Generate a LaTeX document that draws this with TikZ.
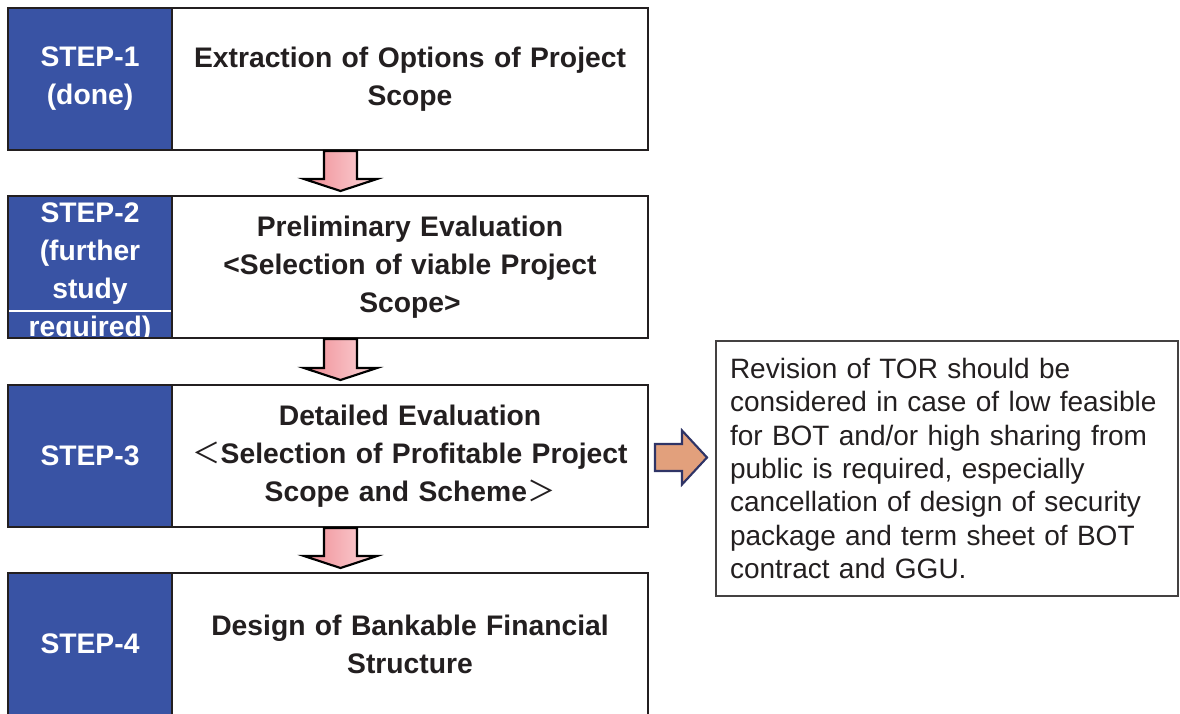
\documentclass[tikz,border=0pt]{standalone}
\usepackage{fontspec}
\setmainfont{Liberation Sans}
\newfontfamily\cjkfont{Noto Sans CJK SC}
\usetikzlibrary{calc, positioning}
\definecolor{cnavy}{HTML}{3953A4}
\definecolor{cink}{HTML}{231F20}
\definecolor{cpink}{HTML}{EF8A93}
\definecolor{cpinklt}{HTML}{FCD8DA}
\definecolor{corange}{HTML}{E2A07C}
\definecolor{cdeep}{HTML}{2F3466}
\tikzset{
  every picture/.style={x=0.75pt, y=0.75pt},
  idcell/.style={draw=cink, fill=cnavy, line width=1.8pt, anchor=north west, inner sep=0pt, outer sep=0pt,
    minimum width=123pt, minimum height=106.5pt, text=white, align=center,
    font=\bfseries\fontsize{21.2}{28.5}\selectfont},
  taskcell/.style={draw=cink, fill=white, line width=1.8pt, anchor=north west, inner sep=0pt, outer sep=0pt,
    minimum width=357pt, minimum height=106.5pt, text=cink, align=center, text width=345pt,
    font=\bfseries\fontsize{21.2}{28.5}\selectfont},
  downarrow/.style={draw=black, line width=1.6pt, left color=cpink, right color=cpinklt},
  sidearrow/.style={draw=cdeep, line width=1.6pt, fill=corange},
  note/.style={draw=cink!85, line width=1pt, anchor=north west, inner xsep=10.5pt, inner ysep=0pt, outer sep=0pt,
    minimum width=346.5pt, minimum height=191.25pt, text width=325.5pt, align=left, text=cink,
    font=\fontsize{21}{25.1}\selectfont},
}
\begin{document}
\begin{tikzpicture}
  \useasboundingbox (0,0) rectangle (1180,-713);
  % step rows
  \foreach \i/\y/\lab/\task in {
    1/8/{STEP-1\\(done)}/{Extraction of Options of Project\\Scope},
    2/196/{}/{Preliminary Evaluation\\<Selection of viable Project\\Scope>},
    3/385/{STEP-3}/{Detailed Evaluation\\{\cjkfont\mdseries ＜}Selection of Profitable Project\\Scope and Scheme{\cjkfont\mdseries ＞}},
    4/573/{STEP-4}/{Design of Bankable Financial\\Structure}} {
    \node[idcell] (id\i) at (8,-\y) {\lab};
    \node[taskcell] (task\i) at (172,-\y) {\task};
  }
  % step 2 label runs over its cell
  \begin{scope}
    \clip (id2.south west) rectangle (id2.north east);
    \node[idcell, draw=none, fill=none, anchor=center] (id2t) at ($(id2.center)+(0,-6)$) {STEP-2\\(further\\study\\required)};
    \draw[white, line width=0.8pt] ($(id2.south west)+(0,27)$) -- ($(id2.south east)+(0,27)$);
  \end{scope}
  \draw[draw=cink, line width=1.8pt] (id2.south west) rectangle (id2.north east);
  % block arrows between steps
  \foreach \a/\b in {1/2, 2/3, 3/4} {
    \coordinate (top\a) at ($(task\a.south west)+(168.5,-1)$);
    \coordinate (tip\a) at ($(task\b.north west)+(168.5,5)$);
    \draw[downarrow] ($(top\a)+(-16.5,0)$) -- ($(top\a)+(16.5,0)$) -- ($(tip\a)+(16.5,12)$)
      -- ($(tip\a)+(36.5,12)$) -- (tip\a) -- ($(tip\a)+(-36.5,12)$) -- ($(tip\a)+(-16.5,12)$) -- cycle;
  }
  % remark
  \node[note] (note) at (716,-341) {Revision of TOR should be\\considered in case of low feasible\\for BOT and/or high sharing from\\public is required, especially\\cancellation of design of security\\package and term sheet of BOT\\contract and GGU.};
  \coordinate (tail) at ($(task3.east)+(7,-1.5)$);
  \coordinate (head) at ($(note.west |- tail)+(-9,0)$);
  \draw[sidearrow] ($(tail)+(0,13.5)$) -- ($(head)+(-25,13.5)$) -- ($(head)+(-25,27)$) -- (head)
    -- ($(head)+(-25,-27)$) -- ($(head)+(-25,-13.5)$) -- ($(tail)+(0,-13.5)$) -- cycle;
\end{tikzpicture}
\end{document}
